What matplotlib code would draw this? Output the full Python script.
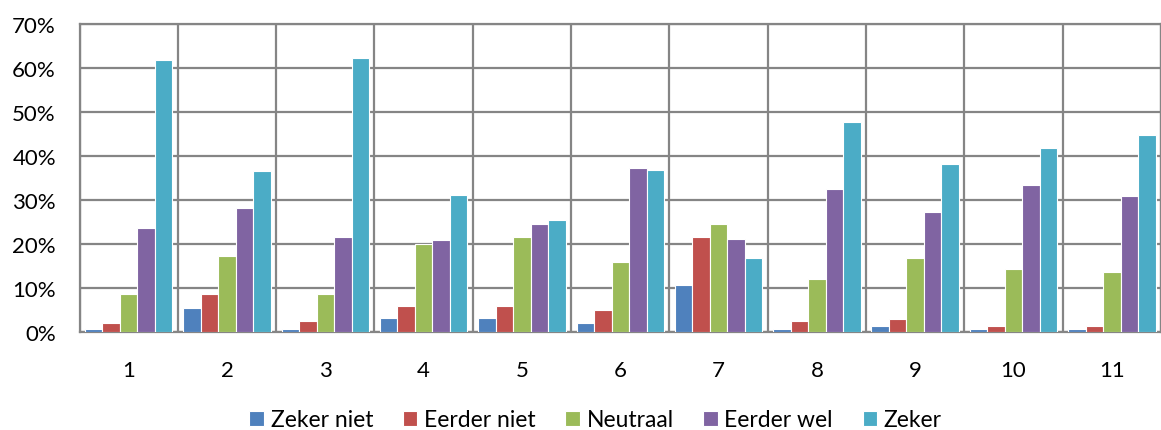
import numpy as np
import matplotlib.pyplot as plt
from matplotlib.ticker import FuncFormatter

plt.rcParams['font.family'] = ['Lato', 'DejaVu Sans']

categories = ['1', '2', '3', '4', '5', '6', '7', '8', '9', '10', '11']
series_names = ['Zeker niet', 'Eerder niet', 'Neutraal', 'Eerder wel', 'Zeker']
zeker_niet = [0.6, 5.4, 0.6, 3.2, 3.2, 2.0, 10.6, 0.6, 1.4, 0.6, 0.6]
eerder_niet = [2.0, 8.5, 2.4, 5.8, 5.8, 4.9, 21.6, 2.4, 2.8, 1.4, 1.4]
neutraal = [8.5, 17.2, 8.5, 19.9, 21.6, 15.8, 24.6, 11.9, 16.8, 14.2, 13.7]
eerder_wel = [23.7, 28.1, 21.6, 20.8, 24.6, 37.3, 21.2, 32.5, 27.3, 33.4, 30.8]
zeker = [61.9, 36.5, 62.2, 31.2, 25.5, 36.9, 16.8, 47.8, 38.2, 41.7, 44.7]
colors = ['#4F81BD', '#C0504D', '#9BBB59', '#8064A2', '#4BACC6']

data = [zeker_niet, eerder_niet, neutraal, eerder_wel, zeker]

fig = plt.figure(figsize=(11.61, 4.31), dpi=100)
ax = fig.add_axes([0.0685, 0.228, 0.9315, 0.714])

x = np.arange(len(categories))
slot = 0.178
for i, (vals, name, c) in enumerate(zip(data, series_names, colors)):
    ax.bar(x + (i - 2) * slot, vals, width=slot, color=c, edgecolor='white',
           linewidth=0.8, label=name, zorder=3)

grid_color = '#858585'
ax.set_xlim(-0.5, len(categories) - 0.5)
ax.set_ylim(0, 70)
ax.set_yticks(range(0, 71, 10))
ax.yaxis.set_major_formatter(FuncFormatter(lambda v, p: f'{int(v)}%'))
ax.set_xticks(x)
ax.set_xticklabels(categories)
ax.set_xticks(np.arange(-0.5, len(categories), 1), minor=True)
ax.grid(axis='y', which='major', color=grid_color, linewidth=1.6, zorder=0)
ax.grid(axis='x', which='minor', color=grid_color, linewidth=1.6, zorder=0)
ax.tick_params(axis='both', which='both', length=0, labelsize=16, colors='black')
ax.tick_params(axis='y', pad=17)
ax.tick_params(axis='x', pad=20)
for s in ax.spines.values():
    s.set_color(grid_color)
    s.set_linewidth(1.6)

fig.legend(loc='center', bbox_to_anchor=(0.513, 0.024), ncol=5, frameon=False,
           fontsize=16.5, handlelength=0.62, handleheight=0.62, handletextpad=0.3,
           columnspacing=1.3)

fig.savefig('out.png', dpi=100)
